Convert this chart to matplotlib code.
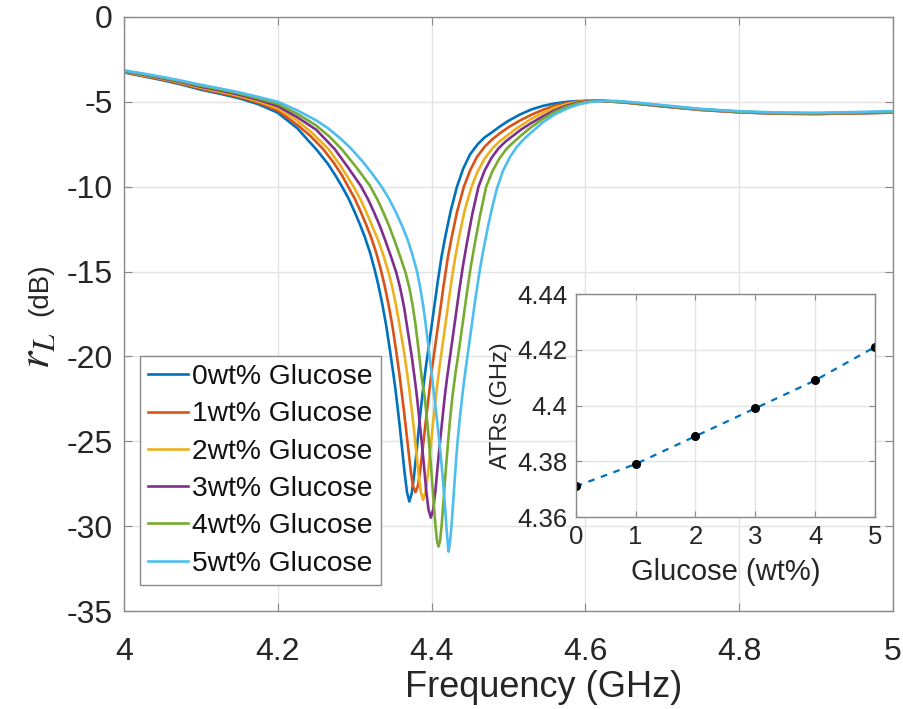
import matplotlib
matplotlib.use('Agg')
import matplotlib.pyplot as plt

plt.rcParams['font.family'] = ['Liberation Sans', 'DejaVu Sans']
plt.rcParams['mathtext.fontset'] = 'stix'

# ---------------- data ----------------
labels = ['0wt% Glucose', '1wt% Glucose', '2wt% Glucose',
          '3wt% Glucose', '4wt% Glucose', '5wt% Glucose']
colors = ['#0072BD', '#D95319', '#EDB120', '#7E2F8E', '#77AC30', '#4DBEEE']

# 0 wt%
f0 = [4.000, 4.025, 4.050, 4.075, 4.100, 4.125, 4.150, 4.175, 4.200, 4.225, 4.250, 4.265,
      4.275, 4.283, 4.292, 4.300, 4.307, 4.313, 4.320, 4.326, 4.331, 4.336, 4.341, 4.346,
      4.350, 4.353, 4.356, 4.359, 4.362, 4.365, 4.368, 4.371, 4.374, 4.377, 4.380, 4.383,
      4.386, 4.389, 4.392, 4.396, 4.400, 4.404, 4.408, 4.413, 4.418, 4.425, 4.433, 4.441,
      4.450, 4.460, 4.469, 4.480, 4.489, 4.500, 4.515, 4.530, 4.545, 4.560, 4.575, 4.590,
      4.605, 4.620, 4.650, 4.700, 4.750, 4.800, 4.850, 4.900, 4.950, 5.000]
db0 = [-3.28, -3.50, -3.73, -3.99, -4.29, -4.53, -4.80, -5.15, -5.65, -6.55, -7.80, -8.65,
       -9.35, -9.96, -10.7, -11.5, -12.25, -12.95, -13.9, -14.9, -15.85, -16.95, -18.2, -19.7,
       -20.95, -21.95, -23.1, -24.3, -25.6, -26.9, -28.0, -28.55, -28.1, -27.1, -25.8, -24.4,
       -23.1, -21.9, -20.8, -19.5, -18.2, -16.9, -15.6, -14.1, -12.9, -11.4, -10.0, -8.95,
       -8.1, -7.5, -7.1, -6.75, -6.45, -6.12, -5.75, -5.45, -5.24, -5.10, -5.01, -4.96,
       -4.94, -4.95, -5.04, -5.27, -5.48, -5.62, -5.70, -5.72, -5.68, -5.63]

# 1 wt%
f1 = [4.000, 4.025, 4.050, 4.075, 4.100, 4.125, 4.150, 4.175, 4.200, 4.225, 4.242, 4.259,
      4.272, 4.283, 4.291, 4.300, 4.308, 4.315, 4.321, 4.328, 4.334, 4.339, 4.344, 4.349,
      4.354, 4.358, 4.361, 4.364, 4.367, 4.370, 4.373, 4.376, 4.379, 4.382, 4.385, 4.388,
      4.391, 4.394, 4.397, 4.400, 4.404, 4.408, 4.412, 4.416, 4.421, 4.426, 4.433, 4.442,
      4.450, 4.459, 4.469, 4.478, 4.489, 4.500, 4.515, 4.530, 4.545, 4.560, 4.575, 4.590,
      4.605, 4.620, 4.650, 4.700, 4.750, 4.800, 4.850, 4.900, 4.950, 5.000]
db1 = [-3.25, -3.47, -3.69, -3.94, -4.23, -4.47, -4.73, -5.06, -5.52, -6.35, -7.00, -7.79,
       -8.55, -9.30, -9.96, -10.7, -11.5, -12.25, -12.95, -13.9, -14.9, -15.85, -16.95, -18.2,
       -19.7, -21.0, -22.1, -23.2, -24.4, -25.6, -26.8, -27.66, -28.0, -27.66, -26.8, -25.6,
       -24.4, -23.2, -22.05, -20.9, -19.6, -18.3, -17.0, -15.7, -14.2, -13.0, -11.5, -10.0,
       -9.05, -8.25, -7.65, -7.25, -6.85, -6.5, -6.1, -5.76, -5.47, -5.24, -5.09, -4.99,
       -4.95, -4.94, -5.04, -5.27, -5.48, -5.62, -5.70, -5.72, -5.69, -5.64]

# 2 wt%
f2 = [4.000, 4.025, 4.050, 4.075, 4.100, 4.125, 4.150, 4.175, 4.200, 4.225, 4.245, 4.266,
      4.282, 4.298, 4.308, 4.316, 4.323, 4.330, 4.337, 4.344, 4.349, 4.354, 4.359, 4.364,
      4.368, 4.371, 4.374, 4.377, 4.380, 4.383, 4.386, 4.389, 4.392, 4.395, 4.398, 4.401,
      4.404, 4.407, 4.410, 4.414, 4.418, 4.422, 4.426, 4.431, 4.436, 4.443, 4.452, 4.460,
      4.469, 4.479, 4.488, 4.498, 4.508, 4.518, 4.530, 4.545, 4.560, 4.575, 4.590, 4.605,
      4.620, 4.650, 4.700, 4.750, 4.800, 4.850, 4.900, 4.950, 5.000]
db2 = [-3.23, -3.44, -3.65, -3.90, -4.17, -4.41, -4.66, -4.98, -5.39, -6.10, -6.85, -7.79,
       -8.80, -9.96, -10.8, -11.6, -12.35, -13.1, -14.0, -15.05, -15.95, -17.05, -18.35, -19.7,
       -20.95, -21.95, -23.1, -24.3, -25.6, -26.9, -28.0, -28.45, -28.0, -27.0, -25.7, -24.3,
       -23.0, -21.8, -20.7, -19.4, -18.1, -16.8, -15.5, -14.1, -12.9, -11.4, -10.0, -9.1,
       -8.35, -7.75, -7.35, -7.0, -6.65, -6.35, -6.0, -5.65, -5.35, -5.15, -5.02, -4.96,
       -4.94, -5.03, -5.26, -5.46, -5.60, -5.68, -5.70, -5.66, -5.61]

# 3 wt%
f3 = [4.000, 4.025, 4.050, 4.075, 4.100, 4.125, 4.150, 4.175, 4.200, 4.225, 4.250, 4.274,
      4.291, 4.308, 4.318, 4.326, 4.333, 4.340, 4.347, 4.354, 4.359, 4.364, 4.369, 4.374,
      4.378, 4.381, 4.384, 4.387, 4.390, 4.393, 4.396, 4.399, 4.402, 4.405, 4.408, 4.411,
      4.414, 4.417, 4.420, 4.424, 4.428, 4.432, 4.436, 4.441, 4.446, 4.453, 4.461, 4.469,
      4.478, 4.487, 4.496, 4.506, 4.516, 4.528, 4.545, 4.560, 4.575, 4.590, 4.605, 4.620,
      4.650, 4.700, 4.750, 4.800, 4.850, 4.900, 4.950, 5.000]
db3 = [-3.20, -3.40, -3.62, -3.85, -4.12, -4.34, -4.59, -4.89, -5.26, -5.90, -6.65, -7.79,
       -8.85, -9.96, -10.8, -11.6, -12.35, -13.2, -14.1, -15.05, -15.95, -17.05, -18.5, -19.95,
       -21.3, -22.4, -23.7, -25.0, -26.4, -27.9, -29.03, -29.5, -29.03, -27.9, -26.4, -25.0,
       -23.7, -22.4, -21.3, -20.0, -18.7, -17.4, -16.1, -14.6, -13.3, -11.6, -10.0, -9.05,
       -8.3, -7.75, -7.35, -7.0, -6.65, -6.3, -5.85, -5.5, -5.24, -5.06, -4.97, -4.94,
       -5.02, -5.25, -5.45, -5.59, -5.67, -5.69, -5.65, -5.60]

# 4 wt%
f4 = [4.000, 4.025, 4.050, 4.075, 4.100, 4.125, 4.150, 4.175, 4.200, 4.225, 4.250, 4.267,
      4.283, 4.302, 4.320, 4.330, 4.338, 4.345, 4.352, 4.359, 4.366, 4.371, 4.375, 4.379,
      4.383, 4.387, 4.391, 4.394, 4.3965, 4.399, 4.401, 4.403, 4.405, 4.407, 4.409, 4.411,
      4.413, 4.415, 4.417, 4.419, 4.4215, 4.424, 4.427, 4.431, 4.435, 4.439, 4.443, 4.447,
      4.451, 4.456, 4.463, 4.471, 4.479, 4.488, 4.497, 4.506, 4.516, 4.528, 4.545, 4.560,
      4.575, 4.590, 4.605, 4.620, 4.650, 4.700, 4.750, 4.800, 4.850, 4.900, 4.950, 5.000]
db4 = [-3.18, -3.37, -3.58, -3.81, -4.06, -4.28, -4.52, -4.81, -5.13, -5.70, -6.40, -7.05,
       -7.79, -8.85, -9.96, -10.8, -11.6, -12.35, -13.2, -14.1, -15.05, -15.95, -16.9, -18.1,
       -19.6, -21.2, -22.4, -23.7, -25.0, -26.37, -27.57, -28.8, -29.97, -30.86, -31.2, -30.86,
       -29.97, -28.8, -27.57, -26.37, -25.0, -23.7, -22.4, -21.0, -19.8, -18.5, -17.2, -15.9,
       -14.7, -13.4, -11.7, -10.0, -9.1, -8.35, -7.8, -7.4, -7.0, -6.55, -6.0, -5.6,
       -5.3, -5.1, -4.99, -4.94, -5.01, -5.23, -5.44, -5.58, -5.66, -5.68, -5.64, -5.58]

# 5 wt%
f5 = [4.000, 4.025, 4.050, 4.075, 4.100, 4.125, 4.150, 4.175, 4.200, 4.225, 4.250, 4.265,
      4.281, 4.294, 4.310, 4.323, 4.335, 4.345, 4.354, 4.362, 4.369, 4.375, 4.381, 4.385,
      4.389, 4.392, 4.395, 4.398, 4.401, 4.404, 4.407, 4.410, 4.412, 4.414, 4.416, 4.418,
      4.420, 4.422, 4.424, 4.426, 4.428, 4.430, 4.432, 4.434, 4.437, 4.441, 4.445, 4.449,
      4.453, 4.457, 4.462, 4.467, 4.474, 4.480, 4.485, 4.493, 4.502, 4.511, 4.520, 4.531,
      4.545, 4.560, 4.576, 4.590, 4.605, 4.620, 4.640, 4.670, 4.700, 4.750, 4.800, 4.850,
      4.900, 4.950, 5.000]
db5 = [-3.15, -3.34, -3.54, -3.76, -4.00, -4.22, -4.45, -4.72, -5.00, -5.50, -6.10, -6.55,
       -7.15, -7.70, -8.50, -9.25, -10.0, -10.75, -11.55, -12.35, -13.15, -14.0, -15.0, -15.9,
       -17.0, -18.0, -19.1, -20.25, -21.4, -22.55, -23.75, -25.0, -25.9, -26.9, -28.0, -29.2,
       -30.5, -31.5, -30.9, -29.9, -28.6, -27.3, -26.0, -24.9, -23.5, -21.9, -20.5, -19.2,
       -17.9, -16.6, -15.1, -13.8, -12.2, -11.0, -10.1, -9.05, -8.25, -7.65, -7.2, -6.75,
       -6.2, -5.75, -5.4, -5.17, -5.02, -4.95, -4.95, -5.06, -5.20, -5.42, -5.56, -5.63,
       -5.65, -5.61, -5.55]

freqs = [f0, f1, f2, f3, f4, f5]
dbs = [db0, db1, db2, db3, db4, db5]

xticks = [4, 4.2, 4.4, 4.6, 4.8, 5]
xticklabels = ['4', '4.2', '4.4', '4.6', '4.8', '5']
yticks = [0, -5, -10, -15, -20, -25, -30, -35]
yticklabels = ['0', '-5', '-10', '-15', '-20', '-25', '-30', '-35']

glucose = [0, 1, 2, 3, 4, 5]
atrs = [4.371, 4.379, 4.389, 4.399, 4.409, 4.421]
in_yticks = [4.36, 4.38, 4.40, 4.42, 4.44]
in_yticklabels = ['4.36', '4.38', '4.4', '4.42', '4.44']

# ---------------- figure ----------------
spine_col = '#8a8a8a'
grid_col = '#e3e3e3'
txt_col = '#262626'

fig = plt.figure(figsize=(9.04, 7.09), dpi=100)
ax = fig.add_axes([0.1372, 0.1382, 0.8506, 0.838])
for f, d, c, lab in zip(freqs, dbs, colors, labels):
    ax.plot(f, d, color=c, lw=1.9, label=lab, solid_joinstyle='round')
ax.set_xlim(4, 5)
ax.set_ylim(-35, 0)
ax.set_xticks(xticks)
ax.set_xticklabels(xticklabels)
ax.set_yticks(yticks)
ax.set_yticklabels(yticklabels)
ax.grid(True, color=grid_col, lw=1.0)
ax.set_axisbelow(True)
for s in ax.spines.values():
    s.set_color(spine_col)
    s.set_linewidth(1.0)
ax.tick_params(direction='in', top=True, right=True, length=6, color=spine_col,
               labelsize=23, labelcolor=txt_col)
ax.tick_params(axis='x', pad=19)
ax.tick_params(axis='y', pad=8)
ax.set_xlabel('Frequency (GHz)', fontsize=26, color=txt_col)
ax.xaxis.set_label_coords(0.5455, -0.100)

fig.text(0.042, 0.505, r'$r_L$', rotation=90, fontsize=32, color=txt_col,
         ha='center', va='center')
fig.text(0.044, 0.592, '(dB)', rotation=90, fontsize=20, color=txt_col,
         ha='center', va='center')

leg = ax.legend(loc='lower left', bbox_to_anchor=(0.0208, 0.0438), borderaxespad=0,
                fontsize=20.3, handlelength=1.4, handletextpad=0.15, labelspacing=0.40,
                borderpad=0.3, fancybox=False, framealpha=1, edgecolor='#8a8a8a')
leg.get_frame().set_linewidth(1.0)
for t in leg.get_texts():
    t.set_color('#111111')

# ---------------- inset ----------------
ins = fig.add_axes([0.637, 0.2708, 0.3308, 0.3145])
ins.plot(glucose, atrs, color='#0072BD', lw=1.6, ls=(0, (3, 3)))
ins.plot(glucose, atrs, 'o', color='black', ms=5.5)
ins.set_xlim(0, 5)
ins.set_ylim(4.36, 4.44)
ins.set_xticks(glucose)
ins.set_xticklabels([str(g) for g in glucose])
ins.set_yticks(in_yticks)
ins.set_yticklabels(in_yticklabels)
ins.grid(True, color=grid_col, lw=1.0)
ins.set_axisbelow(True)
for s in ins.spines.values():
    s.set_color(spine_col)
    s.set_linewidth(1.0)
ins.tick_params(direction='in', top=True, right=True, length=4, color=spine_col,
                labelsize=18.5, labelcolor=txt_col, pad=6)
ins.set_xlabel('Glucose (wt%)', fontsize=21, color=txt_col, labelpad=6)
ins.set_ylabel('ATRs (GHz)', fontsize=17, color=txt_col, labelpad=4)

fig.savefig('out.png', dpi=100)
